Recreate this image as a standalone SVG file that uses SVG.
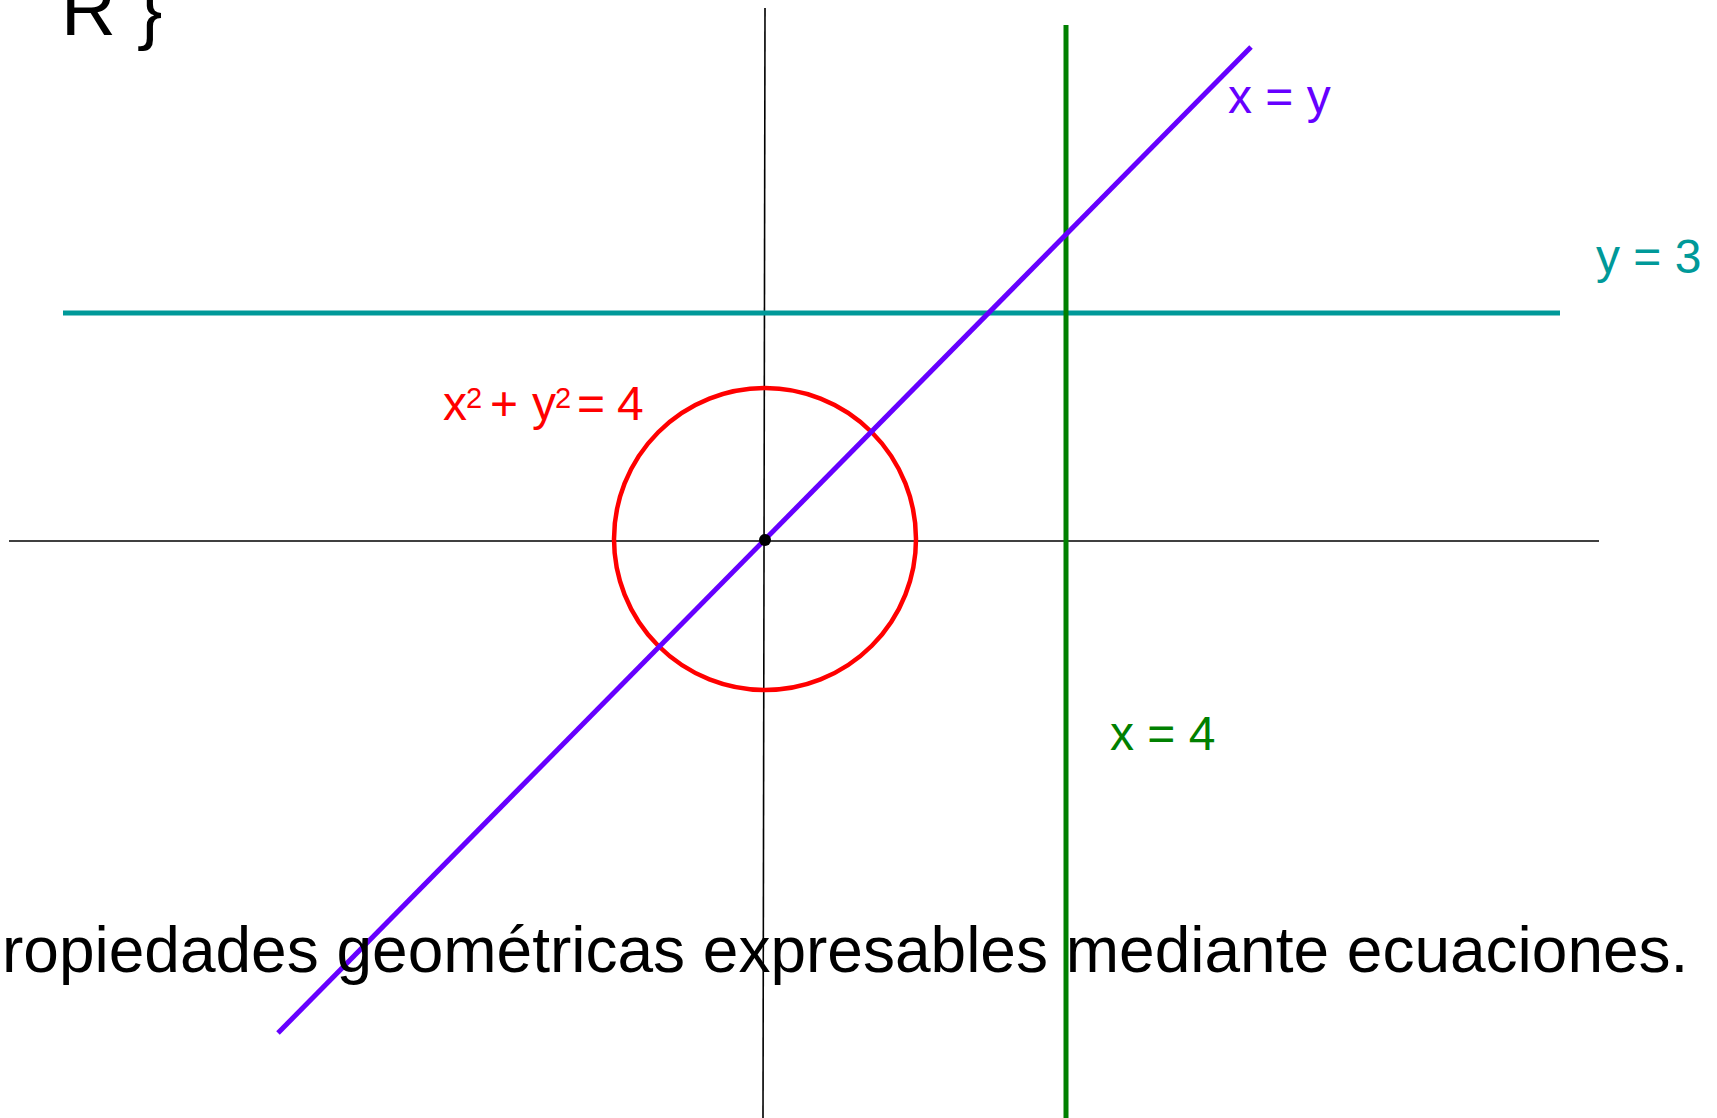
<svg xmlns="http://www.w3.org/2000/svg" width="1717" height="1118" viewBox="0 0 1717 1118">
<style>
.t{font-family:"Liberation Sans",Arial,sans-serif}
.ax{stroke:#000;stroke-width:1.6;fill:none}
</style>
<rect width="1717" height="1118" fill="#fff"/>
<g id="axes">
<line class="ax" x1="9" y1="541" x2="1599" y2="541"/>
<line class="ax" x1="765" y1="8" x2="763" y2="1118"/>
</g>
<g id="connectors">
<line id="y3" x1="63" y1="313" x2="1560" y2="313" stroke="#009999" stroke-width="5"/>
<line id="x4" x1="1066" y1="25" x2="1066" y2="1118" stroke="#008000" stroke-width="5"/>
<circle id="circle" cx="765" cy="539" r="151" fill="none" stroke="#FF0000" stroke-width="4.5"/>
<line id="xy" x1="278" y1="1033" x2="1251" y2="47" stroke="#6600FF" stroke-width="5"/>
<circle id="origin" cx="765" cy="540" r="6" fill="#000"/>
</g>
<g id="title"><text class="t" x="61" y="35" font-size="76" fill="#000">R }</text></g>
<g id="label-xy"><text class="t" x="1228" y="113" font-size="48" fill="#6600FF">x = y</text></g>
<g id="label-y3"><text class="t" x="1596" y="273" font-size="48" fill="#009999">y = 3</text></g>
<g id="label-x4"><text class="t" x="1110" y="750" font-size="48" fill="#008000">x = 4</text></g>
<g id="label-circle"><text class="t" y="420" font-size="48" fill="#FF0000"><tspan x="443">x</tspan><tspan x="466" y="408" font-size="29">2</tspan><tspan x="490" y="420">+</tspan><tspan x="532">y</tspan><tspan x="555" y="408" font-size="29">2</tspan><tspan x="577" y="420">=</tspan><tspan x="617">4</tspan></text></g>
<g id="caption"><text class="t" x="2" y="972" font-size="64" fill="#000">ropiedades geométricas expresables mediante ecuaciones.</text></g>
</svg>
